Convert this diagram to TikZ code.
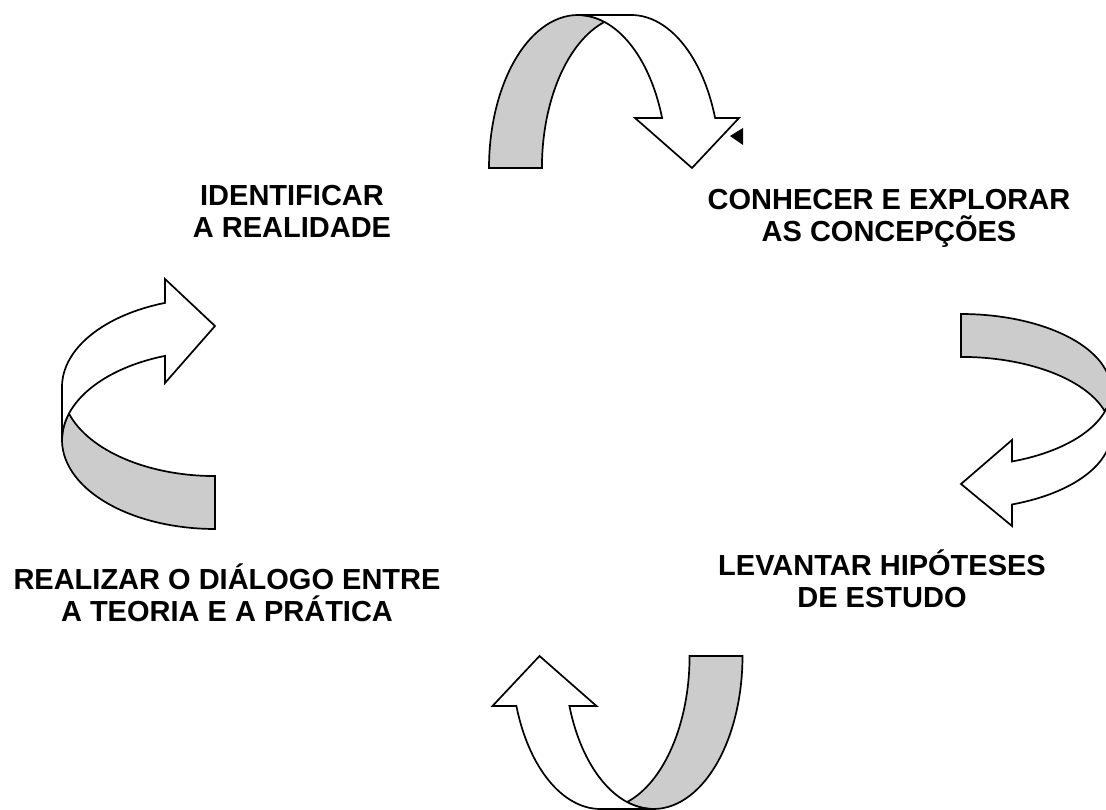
\documentclass[tikz,border=0pt]{standalone}
\usepackage{fontspec}
\setmainfont{Liberation Sans}
\usepackage{tikz}

\begin{document}
\begin{tikzpicture}[x=1pt, y=1pt,
		backband/.style={draw, fill=black!20, line width=1.7pt, line join=miter},
		frontband/.style={draw, fill=white, line width=1.7pt, line join=miter},
		phase/.style={font=\fontsize{29}{32}\selectfont\bfseries, align=center, anchor=base, inner sep=0pt}]
		\useasboundingbox (0,0) rectangle (1106,809);
		\clip (0,0) rectangle (1106,809);
		% top, bottom and left arrows: same shape, turned
		\foreach \ang/\cx/\cy in {0/0/0, 180/615.75/397, 90/532.5/323.5} {
			\begin{scope}[rotate around={\ang:(\cx,\cy)}]
				\draw[backband] (489,641) arc[start angle=180, end angle=72.7, x radius=89, y radius=153]
					arc[start angle=107.3, end angle=180, x radius=89, y radius=153] -- cycle;
				\draw[frontband] (578,794) -- (631,794) arc[start angle=90, end angle=19.1, x radius=89, y radius=153]
					-- (739,691) -- (692,641) -- (635,691) -- (662.1,691)
					arc[start angle=19.1, end angle=90, x radius=89, y radius=153] -- cycle;
			\end{scope}
		}
		% right arrow
		\draw[backband] (961,495) arc[start angle=90, end angle=-16.4, x radius=150, y radius=76]
			arc[start angle=16.4, end angle=90, x radius=150, y radius=76] -- cycle;
		\draw[frontband] (1111,376) arc[start angle=0, end angle=-70.1, x radius=150, y radius=76]
			-- (1012,283) -- (961,325) -- (1012,369) -- (1012,347.5)
			arc[start angle=-70.1, end angle=0, x radius=150, y radius=76] -- cycle;
		\fill (730,673) -- (743,681) -- (743,664) -- cycle;
		
		% base anchor sits on the last line
		\node[phase] (real) at (292,571) {IDENTIFICAR\\A REALIDADE};
		\node[phase] (conc) at (889,567) {CONHECER E EXPLORAR\\AS CONCEPÇÕES};
		\node[phase] (hipo) at (882,201) {LEVANTAR HIPÓTESES\\DE ESTUDO};
		\node[phase] (dial) at (227,187) {REALIZAR O DIÁLOGO ENTRE\\A TEORIA E A PRÁTICA};
	\end{tikzpicture}
\end{document}
